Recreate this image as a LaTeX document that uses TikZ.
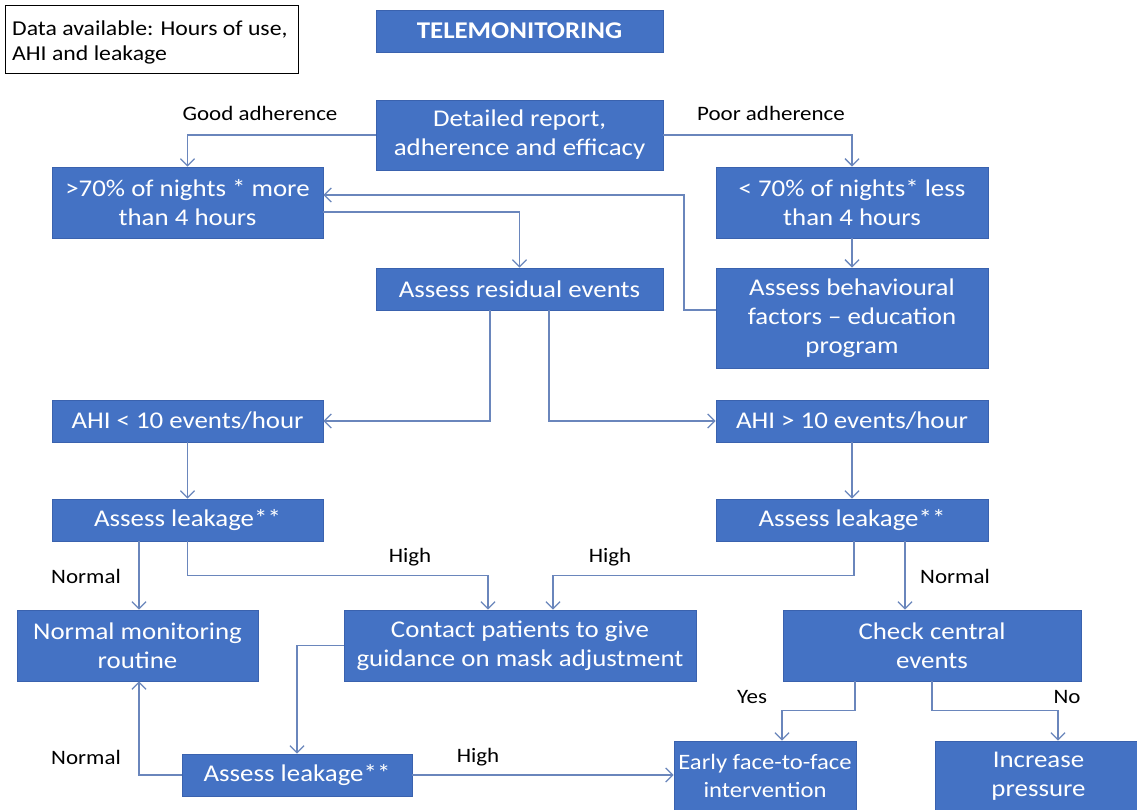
\documentclass[tikz,border=0pt]{standalone}
\usepackage{fontspec}
\setmainfont{Carlito}[FakeStretch=1.12]
\usetikzlibrary{arrows.meta}
\definecolor{boxblue}{HTML}{4472C4}
\definecolor{boxedge}{HTML}{3A62AE}
\definecolor{linecol}{HTML}{6A86BC}
\begin{document}
\begin{tikzpicture}[x=1pt,y=-1pt,
 bbox/.style={draw=boxedge, fill=boxblue, text=white, font=\fontsize{24}{29}\selectfont, align=center, inner sep=0pt, line width=0.8pt},
 conn/.style={draw=linecol, line width=1.3pt, -{Straight Barb[length=7pt,width=14pt]}},
 lbl/.style={font=\fontsize{20.5}{24}\selectfont, text=black, inner sep=0pt}]
\fill[white] (0,0) rectangle (1137,810);
\useasboundingbox (0,0) rectangle (1137,810);

% data box
\node[draw=black, fill=white, line width=0.8pt, minimum width=293pt, minimum height=68pt, inner sep=0pt] (data) at (151.5,39) {};
\node[font=\fontsize{21.2}{25}\selectfont, align=left, anchor=west, inner sep=0pt] (datatxt) at (12,42) {Data available: Hours of use,\\AHI and leakage};

% boxes
\node[bbox, minimum width=287pt, minimum height=42pt, font=\fontsize{24}{29}\selectfont\bfseries] (tele) at (519.5,31) {TELEMONITORING};
\node[bbox, minimum width=287pt, minimum height=70pt] (detail) at (519.5,135) {Detailed report,\\adherence and efficacy};
\node[bbox, minimum width=271pt, minimum height=71pt] (good) at (187.5,202.5) {>70\% of nights * more\\than 4 hours};
\node[bbox, minimum width=272pt, minimum height=71pt] (poor) at (852,202.5) {< 70\% of nights* less\\than 4 hours};
\node[bbox, minimum width=287pt, minimum height=42pt] (resid) at (519.5,289) {Assess residual events};
\node[bbox, minimum width=272pt, minimum height=100pt] (behav) at (852,318) {Assess behavioural\\factors -- education\\program};
\node[bbox, minimum width=271pt, minimum height=42pt] (ahil) at (187.5,421) {AHI < 10 events/hour};
\node[bbox, minimum width=272pt, minimum height=42pt] (ahir) at (852,421) {AHI > 10 events/hour};
\node[bbox, minimum width=271pt, minimum height=42pt] (leakl) at (187.5,520) {Assess leakage**};
\node[bbox, minimum width=272pt, minimum height=42pt] (leakr) at (852,520) {Assess leakage**};
\node[bbox, minimum width=241pt, minimum height=71pt] (normal) at (137.5,645.5) {Normal monitoring\\routine};
\node[bbox, minimum width=352pt, minimum height=71pt] (contact) at (520,645.5) {Contact patients to give\\guidance on mask adjustment};
\node[bbox, minimum width=298pt, minimum height=71pt] (central) at (932,645.5) {Check central\\events};
\node[bbox, minimum width=230pt, minimum height=42pt] (leakb) at (297,775) {Assess leakage**};
\node[bbox, minimum width=182pt, minimum height=70pt, font=\fontsize{22}{28}\selectfont] (early) at (765,776) {Early face-to-face\\intervention};
\node[bbox, minimum width=207pt, minimum height=70pt] (incr) at (1038.5,776) {Increase\\pressure};

% connectors
\draw[conn] (detail.west) -| (good.north);
\draw[conn] (detail.east) -| (poor.north);
\draw[conn] (poor.south) -- (behav.north);
\draw[conn] ([yshift=8pt]behav.west) -| (684,195) -- ([yshift=7.5pt]good.east);
\draw[conn] ([yshift=-9.5pt]good.east) -| (resid.north);
\draw[conn] ([xshift=-29.5pt]resid.south) |- (ahil.east);
\draw[conn] ([xshift=29.5pt]resid.south) |- (ahir.west);
\draw[conn] (ahil.south) -- (leakl.north);
\draw[conn] (ahir.south) -- (leakr.north);
\draw[conn] ([xshift=-48.5pt]leakl.south) -- ([xshift=-48.5pt]leakl.south |- normal.north);
\draw[conn] (leakl.south) -- ++(0,34) -| ([xshift=-32pt]contact.north);
\draw[conn] ([xshift=2pt]leakr.south) -- ++(0,34) -| ([xshift=33pt]contact.north);
\draw[conn] ([xshift=53pt]leakr.south) -- ([xshift=53pt]leakr.south |- central.north);
\draw[conn] (contact.west) -| (leakb.north);
\draw[conn] (leakb.west) -| ([xshift=1.5pt]normal.south);
\draw[conn] (leakb.east) -- (leakb.east -| early.west);
\draw[conn] ([xshift=-77pt]central.south) -- ++(0,29) -| ([xshift=17pt]early.north);
\draw[conn] (central.south) -- ++(0,29) -| ([xshift=19.5pt]incr.north);

% labels
\node[lbl] (l1) at (260,113) {Good adherence};
\node[lbl] (l2) at (771,113) {Poor adherence};
\node[lbl] (l3) at (86,576) {Normal};
\node[lbl] (l4) at (410,557) {High};
\node[lbl] (l5) at (610,557) {High};
\node[lbl] (l6) at (955,576) {Normal};
\node[lbl] (l7) at (86,757) {Normal};
\node[lbl] (l8) at (478,757) {High};
\node[lbl] (l9) at (752,697) {Yes};
\node[lbl] (l10) at (1067,697) {No};
\end{tikzpicture}
\end{document}
